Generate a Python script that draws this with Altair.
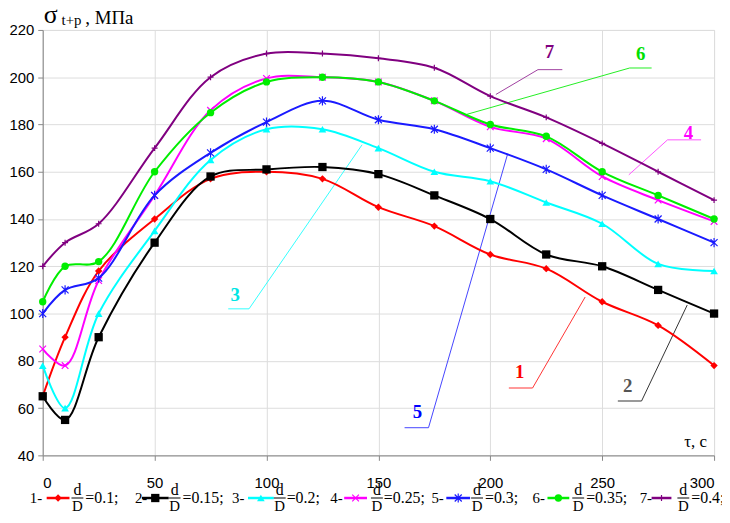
import altair as alt
import pandas as pd

# ---------------- data ----------------
tau = [0, 10, 25, 50, 75, 100, 125, 150, 175, 200, 225, 250, 275, 300]
s1 = [65, 90, 118, 140, 157, 160, 157, 145, 137, 125, 119, 105, 95, 78]
s2 = [65, 55, 90, 130, 158, 161, 162, 159, 150, 140, 125, 120, 110, 100]
s3 = [78, 60, 100, 135, 165, 178, 178, 170, 160, 156, 147, 138, 121, 118]
s4 = [85, 78, 114, 150, 186, 199.5, 200, 198, 190, 179, 174, 158, 148, 139]
s5 = [100, 110, 115, 150, 168, 181, 190, 182, 178, 170, 161, 150, 140, 130]
s6 = [105, 120, 122, 160, 185, 198, 200, 198, 190, 180, 175, 160, 150, 140]
s7 = [120, 130, 138, 170, 200, 210, 210, 208, 204, 192, 183, 172, 160, 148]
series_values = [s1, s2, s3, s4, s5, s6, s7]
series_ids = ["1", "2", "3", "4", "5", "6", "7"]
ratios = ["0.1", "0.15", "0.2", "0.25", "0.3", "0.35", "0.4"]
x_ticks = [0, 50, 100, 150, 200, 250, 300]
y_ticks = [40, 60, 80, 100, 120, 140, 160, 180, 200, 220]

# leader lines (in data units: tau, MPa) and label anchor
leader_x = {
    "1": [208.3, 218.9, 242.4], "2": [257.0, 267.6, 288.0],
    "3": [82.9, 92.2, 142.7], "4": [261.9, 279.2, 294.2],
    "5": [161.7, 172.4, 207.8], "6": [189.2, 262.3, 272.1],
    "7": [202.5, 221.3, 232.2],
}
leader_y = {
    "1": [68.5, 68.5, 107.0], "2": [63.0, 63.0, 103.6],
    "3": [102.0, 102.0, 171.4], "4": [158.7, 173.5, 173.5],
    "5": [51.7, 51.7, 167.7], "6": [184.2, 203.9, 203.9],
    "7": [192.7, 203.2, 203.2],
}
label_x = {"1": 213.1, "2": 261.4, "3": 86.0, "4": 288.5, "5": 167.5, "6": 267.2, "7": 226.4}
label_y = {"1": 75.2, "2": 69.3, "3": 107.8, "4": 176.2, "5": 58.4, "6": 209.8, "7": 210.6}

# ---------------- styles ----------------
colors = ["#ff0000", "#000000", "#00ffff", "#ff00ff", "#1a1aff", "#00ee00", "#800080"]
leader_colors = ["#ff3333", "#333333", "#33ffff", "#ff55ff", "#4444ff", "#22ee22", "#a040a0"]
label_colors = ["#ff0000", "#555555", "#00e5e5", "#ff00ff", "#0000ff", "#00e000", "#800080"]
X_SHAPE = "M-1,-1L1,1M-1,1L1,-1"
STAR_SHAPE = "M-1,-1L1,1M-1,1L1,-1M0,-1.3L0,1.3"
PLUS_SHAPE = "M-1,0L1,0M0,-1L0,1"
shapes = ["diamond", "square", "triangle-up", X_SHAPE, STAR_SHAPE, "circle", PLUS_SHAPE]
sizes = [55, 70, 60, 45, 50, 55, 36]
filled = [True, True, True, False, False, True, False]

SERIF = "Liberation Serif"
W, H = 677, 429

xs = alt.Scale(domain=[0, 300], nice=False)
ys = alt.Scale(domain=[40, 220], nice=False)

layers = []

# leader lines + labels
for i, sid in enumerate(series_ids):
    ldf = pd.DataFrame({"x": leader_x[sid], "y": leader_y[sid], "o": [0, 1, 2]})
    layers.append(
        alt.Chart(ldf).mark_line(color=leader_colors[i], strokeWidth=1, clip=False).encode(
            x=alt.X("x:Q", scale=xs), y=alt.Y("y:Q", scale=ys), order="o:O"
        )
    )
    tdf = pd.DataFrame({"x": [label_x[sid]], "y": [label_y[sid]], "t": [sid]})
    layers.append(
        alt.Chart(tdf).mark_text(font=SERIF, fontSize=19, fontWeight="bold",
                                 color=label_colors[i]).encode(
            x=alt.X("x:Q", scale=xs), y=alt.Y("y:Q", scale=ys), text="t:N"
        )
    )

# series
for i, sid in enumerate(series_ids):
    df = pd.DataFrame({"tau": tau, "val": series_values[i]})
    base = alt.Chart(df).encode(
        x=alt.X("tau:Q", scale=xs,
                axis=alt.Axis(values=x_ticks, title=None, grid=True, labelPadding=22,
                              tickSize=5, labelFontSize=15, labelBaseline="middle")),
        y=alt.Y("val:Q", scale=ys,
                axis=alt.Axis(values=y_ticks, title=None, grid=True, labelPadding=4,
                              tickSize=5, labelFontSize=15)),
    )
    layers.append(base.mark_line(color=colors[i], strokeWidth=2, interpolate="catmull-rom"))
    if filled[i]:
        pt = base.mark_point(shape=shapes[i], size=sizes[i], filled=True, color=colors[i], opacity=1)
    else:
        pt = base.mark_point(shape=shapes[i], size=sizes[i], filled=False, color=colors[i],
                             strokeWidth=1.2, opacity=1)
    layers.append(pt)

# ---------------- title and axis caption ----------------
def txt(text, x, y, size, align="left", baseline="alphabetic", color="#000000", weight="normal"):
    return alt.Chart(pd.DataFrame({"t": [text]})).mark_text(
        font=SERIF, fontSize=size, align=align, baseline=baseline, color=color,
        fontWeight=weight
    ).encode(x=alt.value(x), y=alt.value(y), text="t:N")

layers.append(txt("σ", 1, -7, 26))
layers.append(txt("t+p", 19, -5, 15))
layers.append(txt(", МПа", 43, -6, 19))
layers.append(txt("τ, c", 647, 421, 17))

# ---------------- custom legend ----------------
leg_y = 472  # relative to plot top
num_x = [30, 136, 234, 333, 435, 537, 645]
mk_x1 = [47, 143, 250, 347, 450, 552, 657]
mk_x2 = [70, 170, 276, 370, 474, 574, 677]
frac_x = [78, 176, 282, 380, 481, 583, 689]
eq_x = [86, 184, 289, 387, 489, 591, 697]
ox = 43
for i, sid in enumerate(series_ids):
    layers.append(txt(sid + "-", num_x[i] - ox, leg_y, 15, baseline="middle"))
    layers.append(
        alt.Chart(pd.DataFrame({"a": [0]})).mark_rule(color=colors[i], strokeWidth=2.5).encode(
            x=alt.value(mk_x1[i] - ox), x2=alt.value(mk_x2[i] - ox), y=alt.value(leg_y)
        )
    )
    cx = (mk_x1[i] + mk_x2[i]) / 2 - ox
    layers.append(
        alt.Chart(pd.DataFrame({"a": [0]})).mark_point(
            shape=shapes[i], size=sizes[i], filled=filled[i], color=colors[i],
            strokeWidth=1.2, opacity=1
        ).encode(x=alt.value(cx), y=alt.value(leg_y))
    )
    fx = frac_x[i] - ox
    layers.append(txt("d", fx, leg_y - 3, 16, align="center"))
    layers.append(
        alt.Chart(pd.DataFrame({"a": [0]})).mark_rule(color="#000000", strokeWidth=1).encode(
            x=alt.value(fx - 6), x2=alt.value(fx + 6), y=alt.value(leg_y)
        )
    )
    layers.append(txt("D", fx, leg_y + 13, 15, align="center"))
    layers.append(txt("=" + ratios[i] + ";", eq_x[i] - ox, leg_y, 16, baseline="middle"))

chart = alt.layer(*layers).properties(
    width=W, height=H,
    autosize=alt.AutoSizeParams(type="none"),
    padding={"left": 35, "top": 20, "right": 8, "bottom": 58},
).configure_view(
    stroke="#777777", strokeWidth=1.5
).configure_axis(
    labelFont=SERIF, labelColor="#000000", gridColor="#333333", gridWidth=1.2,
    domainColor="#000000", domainWidth=1.2, tickColor="#000000", gridOpacity=1
).configure(background="#ffffff")

chart.save("out.html", embed_options={"renderer": "svg", "actions": False})
